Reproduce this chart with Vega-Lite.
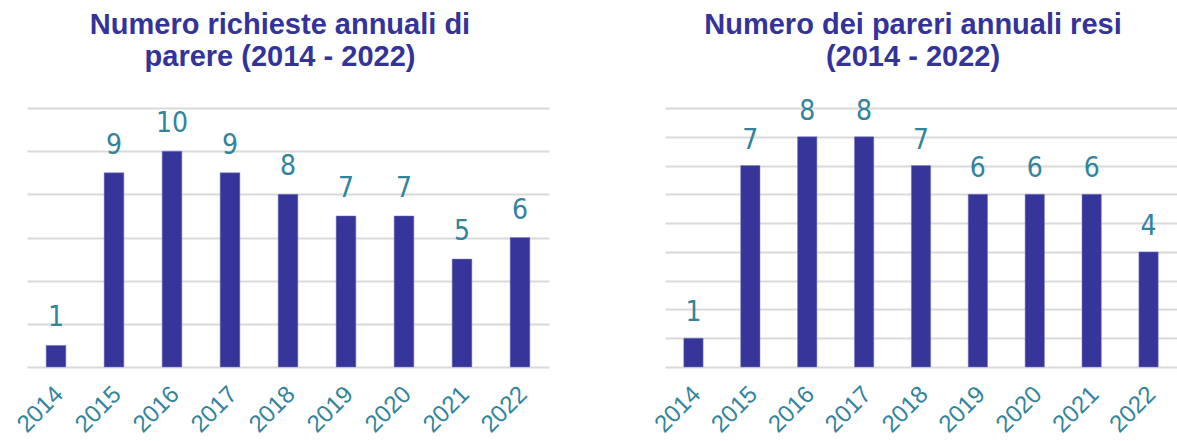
{
  "$schema": "https://vega.github.io/schema/vega-lite/v6.json",
  "padding": {"top": 10, "left": 12, "right": 0, "bottom": 0},
  "background": "white",
  "spacing": 101,
  "config": {
    "view": {"stroke": null},
    "axis": {"labelFont": "Liberation Sans"},
    "title": {"font": "Liberation Sans", "fontWeight": "bold", "fontSize": 29, "color": "#333399", "lineHeight": 32, "anchor": "middle", "frame": "group", "dx": -8}
  },
  "hconcat": [
    {
      "width": 522,
      "height": 259,
      "title": {"text": ["Numero richieste annuali di", "parere (2014 - 2022)"], "offset": 36},
      "data": {"values": [
        {"anno": "2014", "valore": 1},
        {"anno": "2015", "valore": 9},
        {"anno": "2016", "valore": 10},
        {"anno": "2017", "valore": 9},
        {"anno": "2018", "valore": 8},
        {"anno": "2019", "valore": 7},
        {"anno": "2020", "valore": 7},
        {"anno": "2021", "valore": 5},
        {"anno": "2022", "valore": 6}
      ]},
      "encoding": {
        "x": {"field": "anno", "type": "ordinal", "scale": {"paddingInner": 0.66, "paddingOuter": 0.33},
          "axis": {"title": null, "labelAngle": -45, "labelFontSize": 24, "labelColor": "#31849B", "ticks": false, "domain": false, "labelPadding": 15, "labelOffset": -5}},
        "y": {"field": "valore", "type": "quantitative", "scale": {"domain": [0, 12], "nice": false},
          "axis": {"title": null, "values": [0, 2, 4, 6, 8, 10, 12], "labels": false, "ticks": false, "domain": false, "grid": true, "gridColor": "#D9D9D9", "gridWidth": 2}}
      },
      "layer": [
        {"mark": {"type": "bar", "color": "#35359A", "stroke": "#8080C0", "strokeWidth": 0.5}},
        {"mark": {"type": "text", "baseline": "alphabetic", "dy": -19, "font": "DejaVu Sans Condensed", "fontSize": 28, "color": "#31849B"},
          "encoding": {"text": {"field": "valore", "type": "quantitative"}}}
      ]
    },
    {
      "width": 512,
      "height": 259,
      "title": {"text": ["Numero dei pareri annuali resi", "(2014 - 2022)"], "offset": 26},
      "data": {"values": [
        {"anno": "2014", "valore": 1},
        {"anno": "2015", "valore": 7},
        {"anno": "2016", "valore": 8},
        {"anno": "2017", "valore": 8},
        {"anno": "2018", "valore": 7},
        {"anno": "2019", "valore": 6},
        {"anno": "2020", "valore": 6},
        {"anno": "2021", "valore": 6},
        {"anno": "2022", "valore": 4}
      ]},
      "encoding": {
        "x": {"field": "anno", "type": "ordinal", "scale": {"paddingInner": 0.66, "paddingOuter": 0.33},
          "axis": {"title": null, "labelAngle": -45, "labelFontSize": 24, "labelColor": "#31849B", "ticks": false, "domain": false, "labelPadding": 15, "labelOffset": -5}},
        "y": {"field": "valore", "type": "quantitative", "scale": {"domain": [0, 9], "nice": false},
          "axis": {"title": null, "values": [0, 1, 2, 3, 4, 5, 6, 7, 8, 9], "labels": false, "ticks": false, "domain": false, "grid": true, "gridColor": "#D9D9D9", "gridWidth": 2}}
      },
      "layer": [
        {"mark": {"type": "bar", "color": "#35359A", "stroke": "#8080C0", "strokeWidth": 0.5}},
        {"mark": {"type": "text", "baseline": "alphabetic", "dy": -17, "font": "DejaVu Sans Condensed", "fontSize": 28, "color": "#31849B"},
          "encoding": {"text": {"field": "valore", "type": "quantitative"}}}
      ]
    }
  ]
}
